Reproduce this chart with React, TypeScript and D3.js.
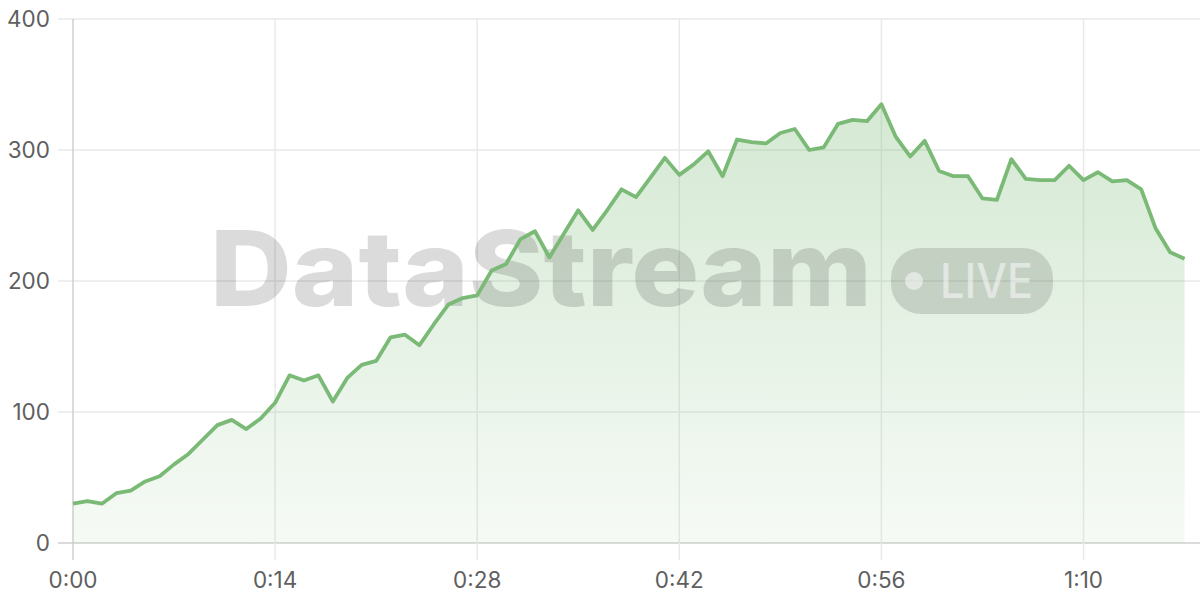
import React from "react";
import * as d3 from "d3";

const seconds: number[] = d3.range(0, 78);
const values: number[] = [
  30, 32, 30, 38, 40, 47, 51, 60, 68, 79,
  90, 94, 87, 95, 107, 128, 124, 128, 108, 126,
  136, 139, 157, 159, 151, 167, 182, 187, 189, 208,
  213, 232, 238, 218, 236, 254, 239, 254, 270, 264,
  279, 294, 281, 289, 299, 280, 308, 306, 305, 313,
  316, 300, 302, 320, 323, 322, 335, 310, 295, 307,
  284, 280, 280, 263, 262, 293, 278, 277, 277, 288,
  277, 283, 276, 277, 270, 240, 222, 217,
];
const xTicks: number[] = [0, 14, 28, 42, 56, 70];
const yTicks: number[] = [0, 100, 200, 300, 400];
const watermark = "DataStream";
const badgeText = "LIVE";

const W = 1200;
const H = 600;
const LINE = "#7aba76";
const FONT = "Inter, 'Open Sans', sans-serif";

function fmt(s: number) {
  const m = Math.floor(s / 60);
  const r = s % 60;
  return `${m}:${r.toString().padStart(2, "0")}`;
}

export default function App() {
  const x = d3.scaleLinear().domain([0, 78]).range([73, 1199]);
  const y = d3.scaleLinear().domain([0, 400]).range([543, 19]);
  const data = seconds.map((s, i) => ({ s, v: values[i] }));
  const line = d3.line<{ s: number; v: number }>().x((d) => x(d.s)).y((d) => y(d.v));
  const area = d3
    .area<{ s: number; v: number }>()
    .x((d) => x(d.s))
    .y0(y(0))
    .y1((d) => y(d.v));
  const maxV = d3.max(values) as number;

  return (
    <svg width={W} height={H} style={{ position: "absolute", left: 0, top: 0, background: "#fff" }}>
      <defs>
        <linearGradient id="fillg" gradientUnits="userSpaceOnUse" x1="0" x2="0" y1={y(maxV)} y2={y(0)}>
          <stop offset="0%" stopColor={LINE} stopOpacity={0.32} />
          <stop offset="100%" stopColor={LINE} stopOpacity={0.07} />
        </linearGradient>
      </defs>
      <rect x={0} y={0} width={W} height={H} fill="#fff" />
      {yTicks.map((t) => (
        <line key={"gy" + t} x1={58} x2={1200} y1={y(t)} y2={y(t)} stroke={t === 0 ? "#cfcfcf" : "#e9e9e9"} strokeWidth={1.5} />
      ))}
      {xTicks.map((t) => (
        <line key={"gx" + t} x1={x(t)} x2={x(t)} y1={19} y2={560} stroke={t === 0 ? "#cfcfcf" : "#e9e9e9"} strokeWidth={1.5} />
      ))}
      <path d={area(data) || ""} fill="url(#fillg)" />
      <g>
        <text
          x={210}
          y={306}
          fontFamily="Inter, 'Open Sans', sans-serif"
          fontWeight={800}
          fontSize={105}
          fill="#000"
          fillOpacity={0.14}
          textLength={662}
          lengthAdjust="spacingAndGlyphs"
        >
          {watermark}
        </text>
        <rect x={891} y={248} width={162} height={66} rx={30} fill="#000" fillOpacity={0.13} />
        <circle cx={914} cy={281} r={9} fill="#fff" fillOpacity={0.5} />
        <text
          x={940}
          y={298}
          fontFamily={FONT}
          fontWeight={500}
          fontSize={48}
          fill="#fff"
          fillOpacity={0.5}
          textLength={93}
          lengthAdjust="spacingAndGlyphs"
        >
          {badgeText}
        </text>
      </g>
      <path d={line(data) || ""} fill="none" stroke={LINE} strokeWidth={3.8} strokeLinejoin="round" />
      {yTicks.map((t) => (
        <text key={"ly" + t} x={50} y={y(t)} dy="0.36em" textAnchor="end" fontFamily={FONT} fontSize={22.5} fill="#5f5f5f">
          {t}
        </text>
      ))}
      {xTicks.map((t) => (
        <text key={"lx" + t} x={x(t)} y={588} textAnchor="middle" fontFamily={FONT} fontSize={22.5} fill="#5f5f5f">
          {fmt(t)}
        </text>
      ))}
    </svg>
  );
}
